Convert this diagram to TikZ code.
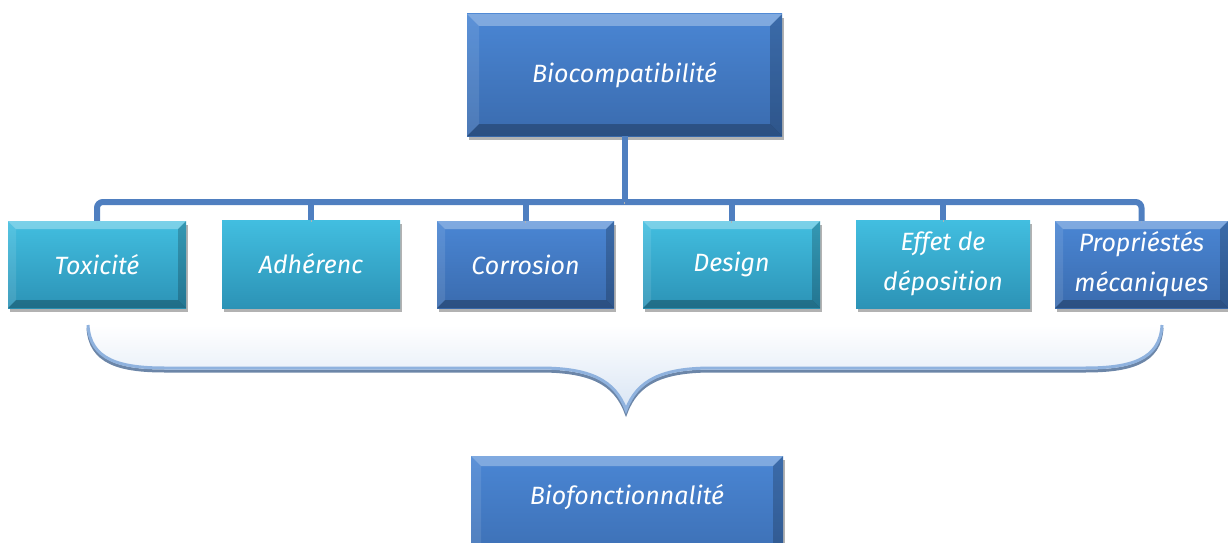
\documentclass[tikz,border=0pt]{standalone}
\usepackage{fontspec}
\setmainfont{Fira Sans}
\usetikzlibrary{shadows}

\definecolor{boxblue}{HTML}{4A86D4}
\definecolor{boxbluedark}{HTML}{3A6BAE}
\definecolor{boxcyan}{HTML}{42BEE0}
\definecolor{boxcyandark}{HTML}{2C93B6}
\definecolor{linkblue}{HTML}{4F7FC0}
\definecolor{bracelight}{HTML}{8FB2DE}
\definecolor{braceshade}{HTML}{6C86A8}
\definecolor{bracefill}{HTML}{D9E5F4}

% the brace under the row of boxes
\newcommand\bracecurve{(88,325) .. controls (90,360) and (120,368) .. (165,368)
  -- (540,368) .. controls (590,368) and (615,380) .. (626,410)
  .. controls (637,380) and (662,368) .. (712,368)
  -- (1085,368) .. controls (1130,368) and (1160,360) .. (1162,325)}

\tikzset{
  card/.style={rectangle, inner sep=0pt, text=white, align=center,
    font=\fontsize{25}{40}\selectfont\itshape,
    drop shadow={shadow xshift=2pt, shadow yshift=-4pt, opacity=.3, fill=black}},
  bluecard/.style={card, top color=boxblue, bottom color=boxbluedark},
  cyancard/.style={card, top color=boxcyan, bottom color=boxcyandark},
  bevel/.style={path picture={
    \path (path picture bounding box.north west) coordinate (nw)
          (path picture bounding box.north east) coordinate (ne)
          (path picture bounding box.south east) coordinate (se)
          (path picture bounding box.south west) coordinate (sw);
    \fill[white,opacity=.3] (nw) -- (ne) -- ([shift={(-#1,-#1)}]ne) -- ([shift={(#1,-#1)}]nw) -- cycle;
    \fill[white,opacity=.1] (nw) -- ([shift={(#1,-#1)}]nw) -- ([shift={(#1,#1)}]sw) -- (sw) -- cycle;
    \fill[black,opacity=.2] (ne) -- (se) -- ([shift={(-#1,#1)}]se) -- ([shift={(-#1,-#1)}]ne) -- cycle;
    \fill[black,opacity=.25] (sw) -- ([shift={(#1,#1)}]sw) -- ([shift={(-#1,#1)}]se) -- (se) -- cycle;
  }},
  link/.style={draw=linkblue, line width=6pt, rounded corners=6pt,
    preaction={draw=black!30, transform canvas={yshift=-2pt}}}
}

\begin{document}
\begin{tikzpicture}[x=1pt,y=-1pt]
  \clip (0,0) rectangle (1228,543);

  % brace
  \shade[top color=white, bottom color=bracefill] \bracecurve -- cycle;
  \draw[braceshade, line width=3pt, transform canvas={yshift=-3pt}] \bracecurve;
  \draw[bracelight, line width=3pt] \bracecurve;

  \node[bluecard, bevel=12pt, minimum width=315pt, minimum height=122pt] (bio) at (624.5,75) {Biocompatibilité};

  \node[cyancard, bevel=8pt, minimum width=178pt, minimum height=87pt] (tox) at (97,264.5) {Toxicité};
  \node[cyancard, minimum width=178pt, minimum height=88pt] (adh) at (311,264) {Adhérenc};
  \node[bluecard, bevel=8pt, minimum width=177pt, minimum height=87pt] (cor) at (525.5,264.5) {Corrosion};
  \node[cyancard, bevel=8pt, minimum width=177pt, minimum height=87pt] (des) at (731.5,264.5) {Design};
  \node[cyancard, minimum width=174pt, minimum height=88pt] (eff) at (943,264) {Effet de\\déposition};
  \node[bluecard, bevel=8pt, minimum width=173pt, minimum height=87pt] (prop) at (1141.5,264.5) {Propriéstés\\mécaniques};

  % runs off the bottom edge, so the text sits high
  \node[bluecard, bevel=10pt, minimum width=312pt, minimum height=122pt,
        text height=16pt, text depth=41pt] (biof) at (627,517) {Biofonctionnalité};

  % connectors
  \coordinate (bar) at (0,202);
  \draw[link] (tox.north) -- (tox.north |- bar) -- (prop.north |- bar) -- (prop.north);
  \foreach \n in {adh,cor,des,eff}
    \draw[link] (\n.north) -- (\n.north |- bar);
  \draw[link] (bio.south) -- (bio.south |- bar);
\end{tikzpicture}
\end{document}
